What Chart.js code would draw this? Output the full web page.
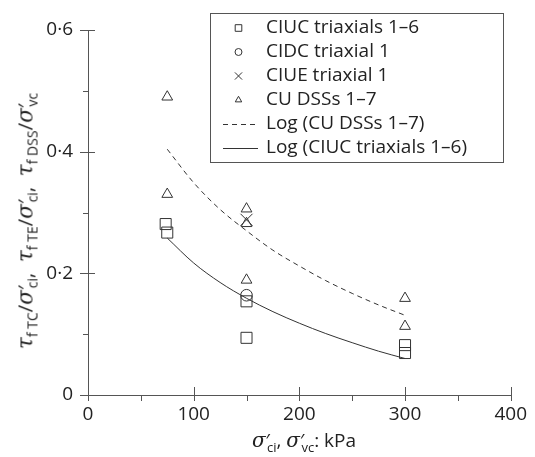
<!DOCTYPE html>
<html>
<head>
<meta charset="utf-8">
<script src="https://cdn.jsdelivr.net/npm/chart.js@4.4.1/dist/chart.umd.min.js"></script>
<style>
  body { margin: 0; background: #fff; }
  #wrap { position: relative; width: 535px; height: 457px; font-family: 'Open Sans', sans-serif; color: #222; }
  #wrap canvas { position: absolute; left: 0; top: 0; }
  .title { position: absolute; white-space: nowrap; font-size: 19px; line-height: 1; }
  .title i { font-family: 'DejaVu Serif', serif; font-size: 20px; }
  .title sub { font-size: 13px; vertical-align: -5px; }
  .title .pr { margin-right: -3px; }
  #ytitle { left: 27px; top: 221px; font-size: 20.5px; transform: translate(-50%, -50%) rotate(-90deg); }
  #ytitle i { font-size: 21.5px; }
  #ytitle sub { font-size: 14px; }
  #xtitle { left: 304px; top: 442px; transform: translate(-50%, -50%); }
</style>
</head>
<body>
<div id="wrap">
  <canvas id="chart" width="535" height="457"></canvas>
  <div class="title" id="ytitle"><i>τ</i><sub>f TC</sub>/<i>σ</i><span class="pr">′</span><sub>ci</sub>, &nbsp;<i>τ</i><sub>f TE</sub>/<i>σ</i><span class="pr">′</span><sub>ci</sub>, &nbsp;<i>τ</i><sub>f DSS</sub>/<i>σ</i><span class="pr">′</span><sub>vc</sub></div>
  <div class="title" id="xtitle"><i>σ</i><span class="pr">′</span><sub>ci</sub>, <i>σ</i><span class="pr">′</span><sub>vc</sub>: kPa</div>
</div>
<script>
// measured values (kPa, strength ratio)
const ciucX = [73.5, 75, 150, 150, 300, 300];
const ciucY = [0.281, 0.267, 0.154, 0.094, 0.082, 0.069];
const cidcX = [150];
const cidcY = [0.164];
const ciueX = [150];
const ciueY = [0.288];
const dssX = [75, 75, 150, 150, 150, 300, 300];
const dssY = [0.490, 0.330, 0.306, 0.282, 0.189, 0.159, 0.113];

// trend lines
const fitX = [75, 100, 125, 150, 175, 200, 225, 250, 275, 300];
const dssFitY = [0.404, 0.349, 0.305, 0.270, 0.238, 0.212, 0.188, 0.167, 0.148, 0.131];
const ciucFitY = [0.258, 0.217, 0.185, 0.159, 0.137, 0.118, 0.101, 0.086, 0.072, 0.060];

const labels = ['CIUC triaxials 1–6', 'CIDC triaxial 1', 'CIUE triaxial 1', 'CU DSSs 1–7',
  'Log (CU DSSs 1–7)', 'Log (CIUC triaxials 1–6)'];

const ink = '#333';
const axisColor = '#555';

function pts(xs, ys) {
  return xs.map((x, i) => ({ x: x, y: ys[i] }));
}

function fmtY(v) {
  const t = Math.round(v * 10);
  if (t % 2 !== 0) return '';
  return t === 0 ? '0' : (v.toFixed(1)).replace('.', '·');
}

// cross ticks on the axes: major ones straddle the axis, minor ones sit outside
const tickPlugin = {
  id: 'ticks',
  afterDraw(chart) {
    const ctx = chart.ctx;
    const xs = chart.scales.x, ys = chart.scales.y;
    const ax = xs.top, ay = ys.right;
    ctx.save();
    ctx.strokeStyle = axisColor;
    ctx.lineWidth = 1;
    ctx.beginPath();
    ys.ticks.forEach(t => {
      const p = Math.round(ys.getPixelForValue(t.value)) + 0.5;
      const major = Math.round(t.value * 10) % 2 === 0;
      ctx.moveTo(ay - (major ? 8 : 5), p);
      ctx.lineTo(ay + (major ? 7 : 0), p);
    });
    xs.ticks.forEach(t => {
      const p = Math.round(xs.getPixelForValue(t.value)) + 0.5;
      const major = t.value % 100 === 0;
      ctx.moveTo(p, ax + 6);
      ctx.lineTo(p, ax - (major ? 8 : 0));
    });
    ctx.stroke();
    ctx.restore();
  }
};

// boxed legend drawn from the datasets' own styles
const legendPlugin = {
  id: 'boxLegend',
  afterDraw(chart) {
    const ctx = chart.ctx;
    const box = { l: 210, t: 13, r: 503, b: 162 };
    ctx.save();
    ctx.strokeStyle = axisColor;
    ctx.lineWidth = 1;
    ctx.strokeRect(box.l + 0.5, box.t + 0.5, box.r - box.l, box.b - box.t);
    chart.data.datasets.forEach((ds, i) => {
      const y = 28 + i * 24;
      ctx.save();
      ctx.strokeStyle = ds.borderColor;
      ctx.fillStyle = 'rgba(0,0,0,0)';
      ctx.lineWidth = 1;
      if (ds.showLine) {
        ctx.setLineDash(ds.borderDash || []);
        ctx.beginPath();
        ctx.moveTo(223, Math.round(y) + 0.5);
        ctx.lineTo(258, Math.round(y) + 0.5);
        ctx.stroke();
      } else {
        Chart.helpers.drawPoint(ctx, {
          pointStyle: ds.pointStyle, radius: ds.pointRadius * 0.6, borderWidth: 1, rotation: 0
        }, 238.5, y);
      }
      ctx.restore();
      ctx.font = '19px "Open Sans"';
      ctx.fillStyle = '#222';
      ctx.textBaseline = 'middle';
      ctx.fillText(ds.label, 266, y);
    });
    ctx.restore();
  }
};

const markerBase = {
  showLine: false,
  borderColor: ink,
  backgroundColor: 'rgba(0,0,0,0)',
  borderWidth: 1,
  pointBorderWidth: 1,
  pointHoverRadius: 0
};

new Chart(document.getElementById('chart'), {
  type: 'scatter',
  data: {
    datasets: [
      Object.assign({}, markerBase, { label: labels[0], data: pts(ciucX, ciucY), pointStyle: 'rect', pointRadius: 7.8 }),
      Object.assign({}, markerBase, { label: labels[1], data: pts(cidcX, cidcY), pointStyle: 'circle', pointRadius: 5.8 }),
      Object.assign({}, markerBase, { label: labels[2], data: pts(ciueX, ciueY), pointStyle: 'crossRot', pointRadius: 8.5 }),
      Object.assign({}, markerBase, { label: labels[3], data: pts(dssX, dssY), pointStyle: 'triangle', pointRadius: 6.2 }),
      { label: labels[4], data: pts(fitX, dssFitY), showLine: true, pointRadius: 0, borderColor: ink,
        borderWidth: 1, borderDash: [5, 4], cubicInterpolationMode: 'monotone', fill: false },
      { label: labels[5], data: pts(fitX, ciucFitY), showLine: true, pointRadius: 0, borderColor: ink,
        borderWidth: 1, cubicInterpolationMode: 'monotone', fill: false }
    ]
  },
  options: {
    responsive: false,
    animation: false,
    events: [],
    clip: false,
    layout: { padding: { top: 30, right: 20, left: 0, bottom: 0 } },
    plugins: {
      legend: { display: false },
      tooltip: { enabled: false }
    },
    scales: {
      x: {
        type: 'linear',
        min: 0,
        max: 400,
        afterFit(s) { s.height = 62; },
        grid: { display: true, drawOnChartArea: false, drawTicks: false },
        border: { display: true, color: axisColor, width: 1 },
        ticks: {
          stepSize: 50,
          padding: 8,
          color: '#222',
          font: { family: 'Open Sans', size: 19 },
          maxRotation: 0,
          autoSkip: false,
          callback: v => (v % 100 === 0 ? String(v) : '')
        }
      },
      y: {
        type: 'linear',
        min: 0,
        max: 0.6,
        afterFit(s) { s.width = 88; },
        grid: { display: true, drawOnChartArea: false, drawTicks: false },
        border: { display: true, color: axisColor, width: 1 },
        ticks: {
          stepSize: 0.1,
          padding: 15,
          color: '#222',
          font: { family: 'Open Sans', size: 19 },
          autoSkip: false,
          callback: v => fmtY(v)
        }
      }
    }
  },
  plugins: [tickPlugin, legendPlugin]
});
</script>
</body>
</html>
